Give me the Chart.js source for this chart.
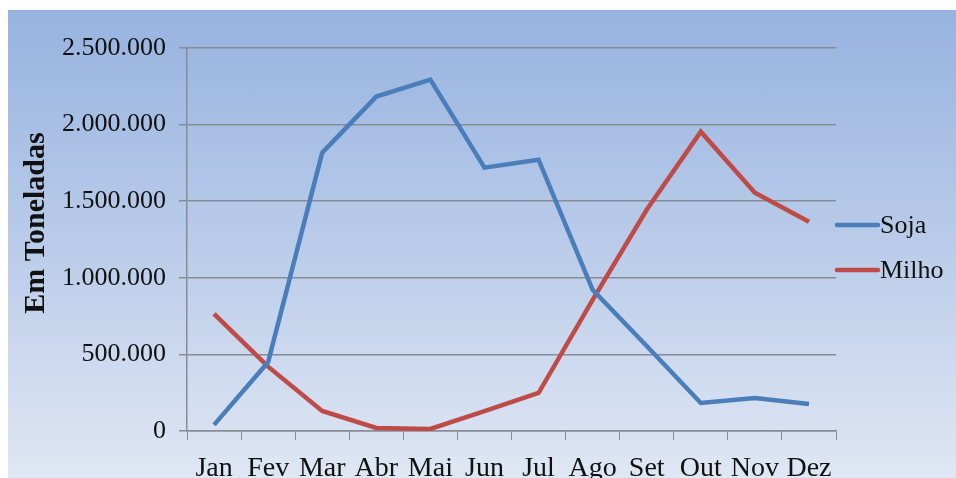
<!DOCTYPE html>
<html>
<head>
<meta charset="utf-8">
<script src="https://cdn.jsdelivr.net/npm/chart.js@4.4.1/dist/chart.umd.min.js"></script>
<style>
  body { margin: 0; background: #fff; }
  #fundo {
    position: absolute; left: 8px; top: 10px; width: 948px; height: 468px;
    background: linear-gradient(to bottom, #97b3e0 0%, #b6c9e8 45%, #e0e7f4 100%);
  }
  #box { position: absolute; left: 0; top: 0; width: 956px; height: 478px; }
</style>
</head>
<body>
<div id="fundo"></div>
<div id="box"><canvas id="grafico"></canvas></div>
<script>
// dados
const meses = ["Jan", "Fev", "Mar", "Abr", "Mai", "Jun", "Jul", "Ago", "Set", "Out", "Nov", "Dez"]
const soja = [40000, 450000, 1817000, 2183000, 2294000, 1719000, 1771000, 922000, 555000, 183000, 216000, 176000]
const milho = [765000, 420000, 131000, 20000, 13000, 130000, 248000, 856000, 1444000, 1954000, 1556000, 1366000]
const tituloY = "Em Toneladas"

const fonte = "'Liberation Serif', 'Times New Roman', serif"
const cinza = "#878c96"

const formatar = v => v.toLocaleString("pt-BR").replace(/,/g, ".")

// legenda e titulo do eixo Y desenhados a mao (posicao igual ao original)
const extras = {
  id: "extras",
  afterDraw(chart) {
    const c = chart.ctx
    const area = chart.chartArea
    c.save()
    // legenda
    chart.data.datasets.forEach((ds, i) => {
      const y = 225 + i * 45
      c.strokeStyle = ds.borderColor
      c.lineWidth = 4.5
      c.lineCap = "round"
      c.beginPath()
      c.moveTo(area.right + 1, y)
      c.lineTo(area.right + 42, y)
      c.stroke()
      c.fillStyle = "#111"
      c.font = "26px " + fonte
      c.textBaseline = "middle"
      c.textAlign = "left"
      c.fillText(ds.label, area.right + 44, y + 1)
    })
    // titulo Y
    c.translate(36, 223)
    c.rotate(-Math.PI / 2)
    c.font = "bold 30px " + fonte
    c.textAlign = "center"
    c.textBaseline = "middle"
    c.fillStyle = "#111"
    c.fillText(tituloY, 0, 0)
    c.restore()
  }
}

const ctx = document.getElementById("grafico").getContext("2d")
const grafico = new Chart(ctx, {
  type: "line",
  data: {
    labels: meses,
    datasets: [
      { label: "Soja", data: soja, borderColor: "#4a7ebb", backgroundColor: "#4a7ebb", borderWidth: 4.5, pointRadius: 0, tension: 0 },
      { label: "Milho", data: milho, borderColor: "#be4b48", backgroundColor: "#be4b48", borderWidth: 4.5, pointRadius: 0, tension: 0 }
    ]
  },
  options: {
    responsive: true,
    maintainAspectRatio: false,
    animation: false,
    layout: { padding: { top: 48, right: 120, left: 0, bottom: 0 } },
    plugins: {
      tooltip: { enabled: false },
      legend: { display: false }
    },
    scales: {
      x: {
        offset: true,
        grid: { offset: true, drawOnChartArea: false, drawTicks: true, tickLength: 9, color: cinza, lineWidth: 1 },
        border: { color: cinza, width: 1.5 },
        ticks: { color: "#111", padding: 12, maxRotation: 0, font: { family: fonte, size: 28 } },
        afterFit: s => { s.height = 47 }
      },
      y: {
        min: 0,
        max: 2500000,
        ticks: { stepSize: 500000, color: "#111", padding: 13, font: { family: fonte, size: 26 }, callback: v => formatar(v) },
        grid: { color: cinza, lineWidth: 1.5, tickLength: 8 },
        border: { color: cinza, width: 1.5 },
        afterFit: s => { s.width = 187 }
      }
    }
  },
  plugins: [extras]
})
</script>
</body>
</html>
